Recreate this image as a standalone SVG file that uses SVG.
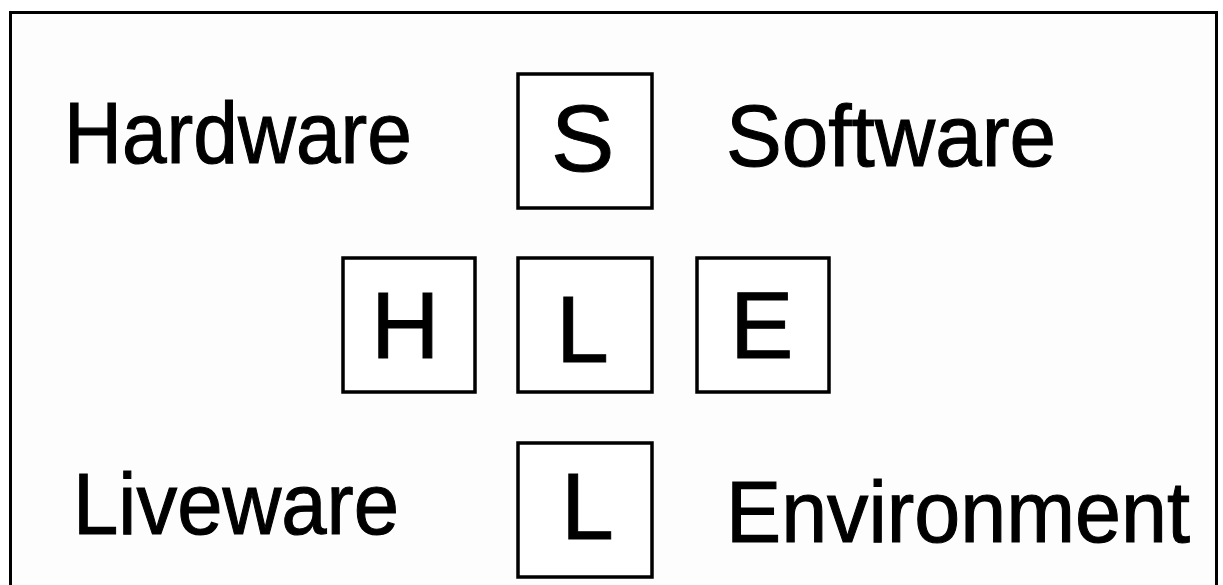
<svg xmlns="http://www.w3.org/2000/svg" width="1223" height="585" viewBox="0 0 1223 585">
<style>
.box{fill:#fff;stroke:#000;stroke-width:3.5}
.lt{font-family:"Liberation Sans",Arial,sans-serif;font-size:95px;fill:#000;stroke:#000;stroke-width:1}
.lb{font-family:"Liberation Sans",Arial,sans-serif;font-size:88px;fill:#000;stroke:#000;stroke-width:1.1}
</style>
<rect x="0" y="0" width="1223" height="585" fill="#fff"/>
<rect x="10.5" y="12.5" width="1206" height="620" fill="#fdfdfd" stroke="#000" stroke-width="3"/>
<g id="labels">
<text class="lb" x="64" y="163" textLength="348" lengthAdjust="spacingAndGlyphs">Hardware</text>
<text class="lb" x="726" y="166" textLength="330" lengthAdjust="spacingAndGlyphs">Software</text>
<text class="lb" x="73" y="534" textLength="326" lengthAdjust="spacingAndGlyphs">Liveware</text>
<text class="lb" x="726" y="542" textLength="464" lengthAdjust="spacingAndGlyphs">Environment</text>
</g>
<g id="node-S"><rect class="box" x="518" y="74" width="134" height="134"/><text class="lt" x="551" y="171">S</text></g>
<g id="node-H"><rect class="box" x="343" y="258" width="132" height="134"/><text class="lt" x="371" y="358">H</text></g>
<g id="node-L1"><rect class="box" x="518" y="258" width="134" height="134"/><text class="lt" x="556" y="362">L</text></g>
<g id="node-E"><rect class="box" x="697" y="258" width="132" height="134"/><text class="lt" x="730" y="358">E</text></g>
<g id="node-L2"><rect class="box" x="518" y="443" width="134" height="134"/><text class="lt" x="561" y="539">L</text></g>
<g id="connectors"></g>
</svg>
